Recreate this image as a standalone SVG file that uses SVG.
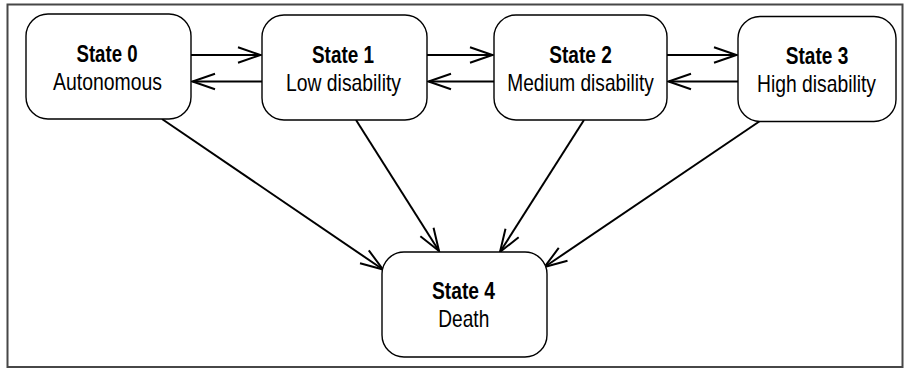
<svg xmlns="http://www.w3.org/2000/svg" width="904" height="369" viewBox="0 0 904 369">
<style>
.frame{fill:none;stroke:#474747;stroke-width:2}
.node rect{fill:#fff;stroke:#000;stroke-width:1.4}
text{font-family:"Liberation Sans Narrow","Liberation Sans",Arial,sans-serif;font-size:24px;fill:#000;text-anchor:middle}
.t{font-weight:bold}
.edge{stroke:#000;stroke-width:2;fill:none;marker-end:url(#arr)}
</style>
<defs>
<marker id="arr" markerUnits="userSpaceOnUse" markerWidth="30" markerHeight="24" viewBox="-25 -12 30 24" refX="0" refY="0" orient="auto" overflow="visible">
<path d="M-22.5,-7.8 L0,0 L-22.5,7.8" fill="none" stroke="#000" stroke-width="2"/>
</marker>
</defs>
<rect class="frame" x="7.5" y="4.5" width="895" height="362.5"/>
<g id="connectors">
<line class="edge" x1="191" y1="55" x2="260.5" y2="55"/>
<line class="edge" x1="262" y1="81.5" x2="192.5" y2="81.5"/>
<line class="edge" x1="427" y1="55" x2="492.5" y2="55"/>
<line class="edge" x1="494" y1="81.5" x2="428.5" y2="81.5"/>
<line class="edge" x1="667" y1="55" x2="736.5" y2="55"/>
<line class="edge" x1="738" y1="81.5" x2="668.5" y2="81.5"/>
<line class="edge" x1="162" y1="119" x2="383" y2="269.5"/>
<line class="edge" x1="356" y1="120" x2="439" y2="251"/>
<line class="edge" x1="584" y1="120" x2="500" y2="252"/>
<line class="edge" x1="760" y1="121" x2="544.5" y2="267"/>
</g>
<g id="node0" class="node">
<rect x="26" y="14" width="165" height="105" rx="22"/>
<text class="t" x="107" y="62" textLength="61" lengthAdjust="spacingAndGlyphs">State 0</text>
<text x="107.5" y="90" textLength="109" lengthAdjust="spacingAndGlyphs">Autonomous</text>
</g>
<g id="node1" class="node">
<rect x="262" y="15" width="165" height="105" rx="22"/>
<text class="t" x="343" y="62.5" textLength="62" lengthAdjust="spacingAndGlyphs">State 1</text>
<text x="343.5" y="90.5" textLength="115" lengthAdjust="spacingAndGlyphs">Low disability</text>
</g>
<g id="node2" class="node">
<rect x="494" y="15" width="173" height="105" rx="22"/>
<text class="t" x="580.5" y="62.5" textLength="62.5" lengthAdjust="spacingAndGlyphs">State 2</text>
<text x="580.5" y="90.5" textLength="146.5" lengthAdjust="spacingAndGlyphs">Medium disability</text>
</g>
<g id="node3" class="node">
<rect x="738" y="16.5" width="158" height="105" rx="22"/>
<text class="t" x="817" y="63.5" textLength="62.5" lengthAdjust="spacingAndGlyphs">State 3</text>
<text x="816.5" y="92" textLength="119" lengthAdjust="spacingAndGlyphs">High disability</text>
</g>
<g id="node4" class="node">
<rect x="382" y="252" width="165" height="105" rx="22"/>
<text class="t" x="463.5" y="299" textLength="63" lengthAdjust="spacingAndGlyphs">State 4</text>
<text x="463.8" y="327" textLength="51" lengthAdjust="spacingAndGlyphs">Death</text>
</g>
</svg>
